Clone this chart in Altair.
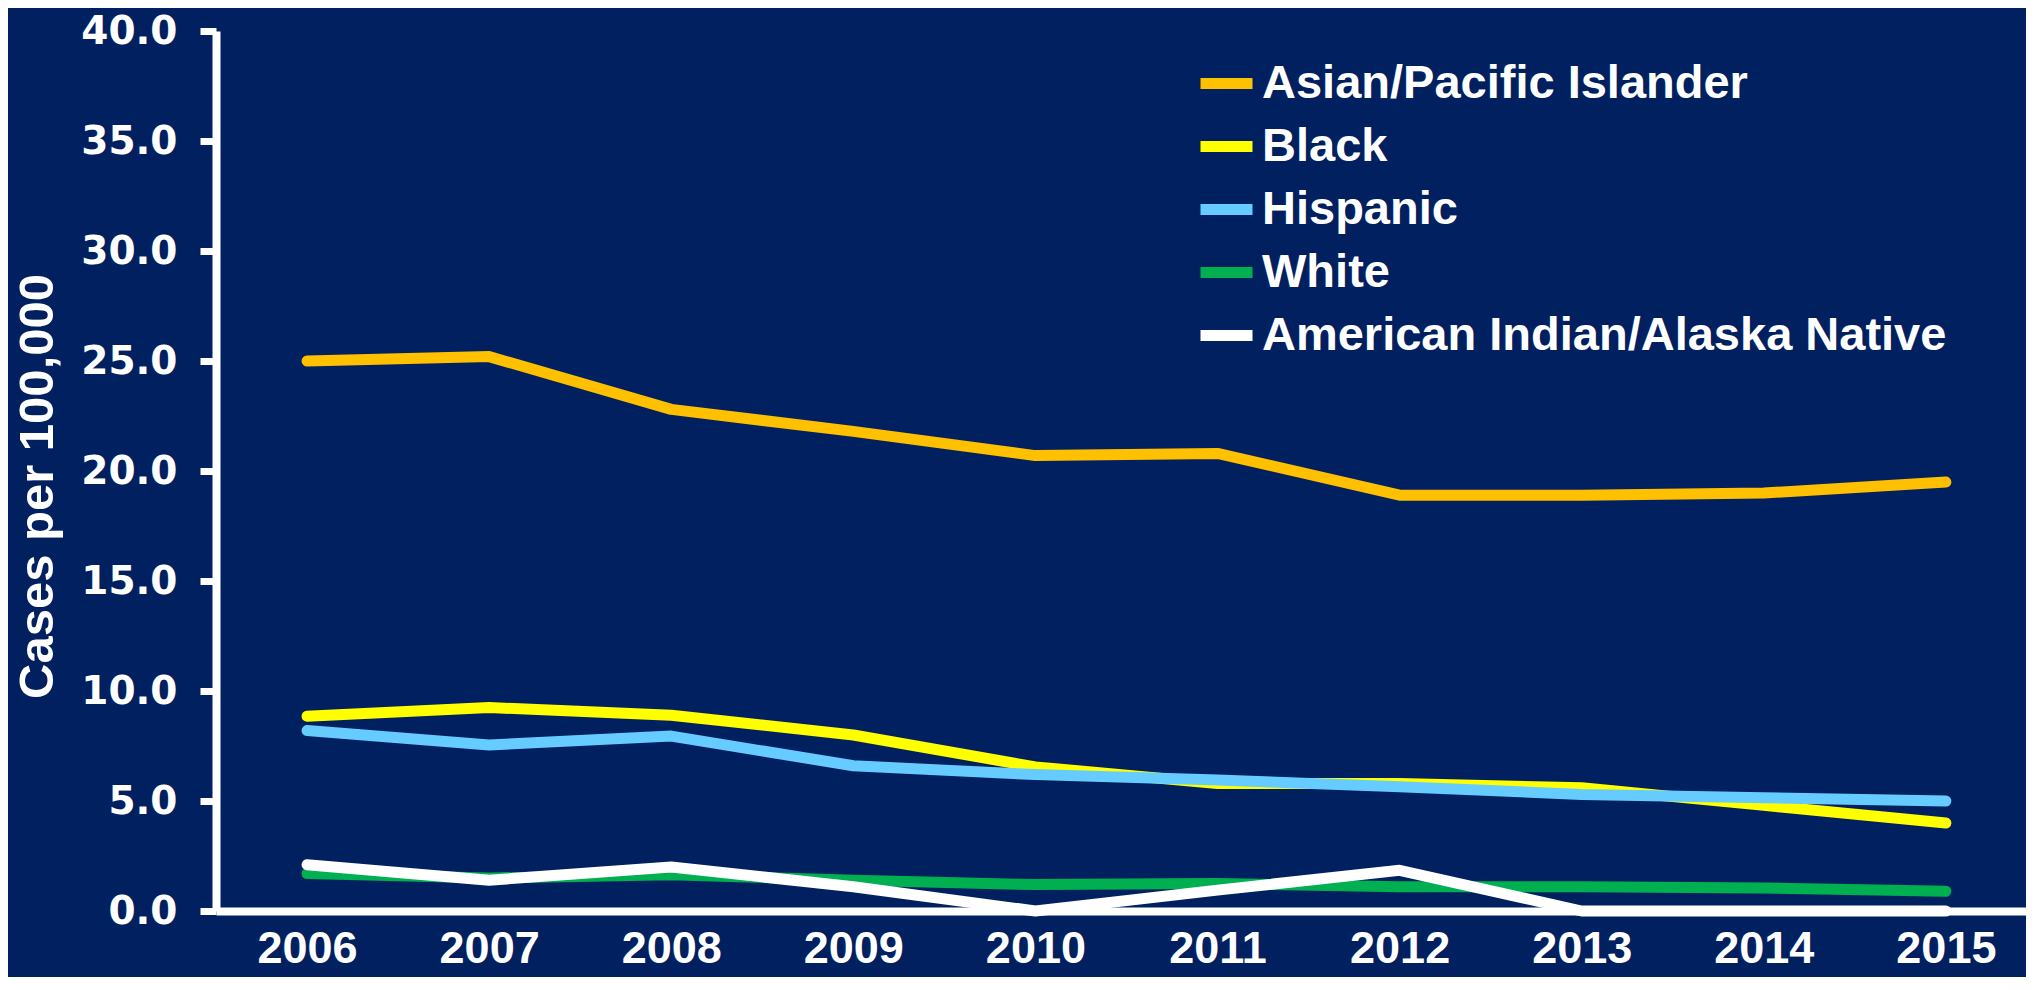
import altair as alt
import pandas as pd

years = [2006, 2007, 2008, 2009, 2010, 2011, 2012, 2013, 2014, 2015]
groups = ["Asian/Pacific Islander", "Black", "Hispanic", "White",
          "American Indian/Alaska Native"]
colors = ["#FFC000", "#FFFF00", "#66CCFF", "#00B050", "#FFFFFF"]

asian = [25.0, 25.2, 22.8, 21.8, 20.7, 20.8, 18.9, 18.9, 19.0, 19.5]
black = [8.85, 9.25, 8.9, 8.0, 6.55, 5.8, 5.8, 5.6, 4.8, 4.0]
hispanic = [8.2, 7.55, 7.95, 6.6, 6.2, 5.95, 5.65, 5.3, 5.15, 5.0]
white = [1.7, 1.5, 1.65, 1.4, 1.2, 1.25, 1.1, 1.1, 1.05, 0.9]
aian = [2.1, 1.4, 2.0, 1.1, 0.0, 0.95, 1.85, 0.0, 0.0, 0.0]

series = [asian, black, hispanic, white, aian]
rows = []
for gi, (g, vals) in enumerate(zip(groups, series)):
    for y, v in zip(years, vals):
        rows.append({"Year": y, "Group": g, "Rate": v, "ord": gi})
df = pd.DataFrame(rows)

FONT = "Liberation Sans"

chart = alt.Chart(df).mark_line(
    strokeWidth=11, strokeCap="round", strokeJoin="round"
).encode(
    x=alt.X("Year:Q",
            scale=alt.Scale(domain=[2005.5, 2015.44], nice=False, zero=False),
            axis=alt.Axis(values=years, format="d", ticks=False, grid=False,
                          labelFontSize=45, labelFont=FONT, labelFontWeight="bold",
                          labelColor="white", labelPadding=15,
                          domainColor="white", domainWidth=8, title=None)),
    y=alt.Y("Rate:Q",
            scale=alt.Scale(domain=[0, 40], nice=False),
            axis=alt.Axis(values=[0, 5, 10, 15, 20, 25, 30, 35, 40], format=".1f",
                          grid=False, tickColor="white", tickWidth=7, tickSize=16,
                          labelFontSize=39, labelFont="DejaVu Sans",
                          labelFontWeight="bold", labelColor="white",
                          labelPadding=23, domainColor="white", domainWidth=8,
                          title="Cases per 100,000", titleFontSize=49,
                          titleFont=FONT, titleFontWeight="bold",
                          titleColor="white", titlePadding=18, titleY=455)),
    color=alt.Color("Group:N", sort=groups,
                    scale=alt.Scale(domain=groups, range=colors),
                    legend=alt.Legend(orient="none", legendX=979, legendY=21,
                                      title=None, symbolType="stroke",
                                      symbolSize=2704, symbolStrokeWidth=11,
                                      labelFontSize=47, labelFont=FONT,
                                      labelFontWeight="bold", labelColor="white",
                                      labelOffset=4, labelLimit=900,
                                      rowPadding=8, padding=0)),
    order=alt.Order("ord:Q"),
).properties(
    width=1810, height=880,
    padding={"left": 208, "top": 23, "right": 0, "bottom": 66},
    autosize=alt.AutoSizeParams(type="none"),
    background="#002060",
).configure_view(stroke=None)

chart.save("out.html", embed_options={"renderer": "svg", "actions": False})
